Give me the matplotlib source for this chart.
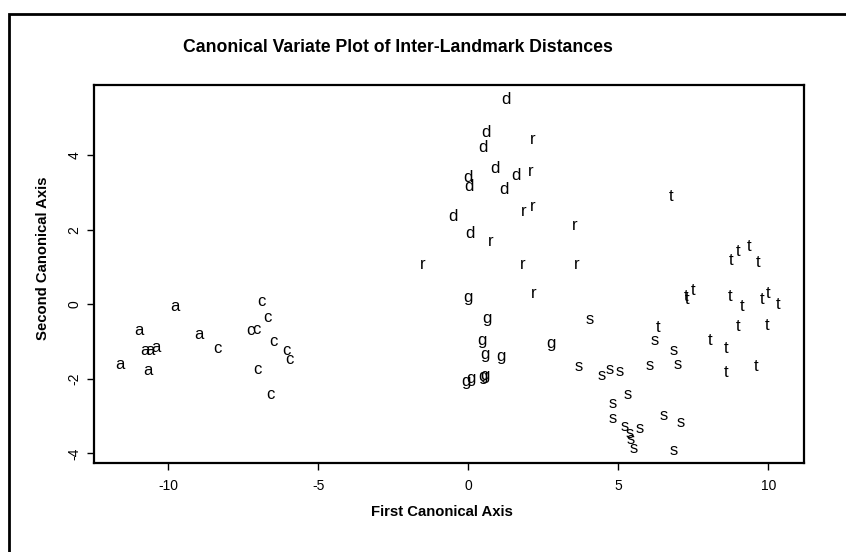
import matplotlib
matplotlib.use("Agg")
import matplotlib.pyplot as plt
from matplotlib.patches import Rectangle

# ---- data ----
a_x = [-9.78, -10.97, -10.78, -10.61, -10.42, -11.61, -10.67, -8.97]
a_y = [-0.05, -0.71, -1.24, -1.23, -1.16, -1.61, -1.78, -0.80]

c_x = [-8.35, -6.89, -6.69, -7.25, -7.08, -6.50, -6.05, -5.98, -7.03, -6.61]
c_y = [-1.20, 0.07, -0.36, -0.71, -0.67, -1.00, -1.23, -1.47, -1.74, -2.43]

d_x = [1.26, 0.59, 0.50, 0.87, 1.59, -0.03, 0.02, 1.20, -0.53, 0.06]
d_y = [5.50, 4.60, 4.20, 3.63, 3.45, 3.40, 3.15, 3.09, 2.35, 1.90]

r_x = [2.13, 2.09, 1.86, 2.13, 3.56, 0.76, -1.53, 1.80, 3.61, 2.17]
r_y = [4.43, 3.57, 2.48, 2.62, 2.10, 1.68, 1.07, 1.07, 1.07, 0.28]

g_x = [-0.02, 0.63, 0.45, 0.56, 1.08, 2.75, -0.08, 0.09, 0.50, 0.56]
g_y = [0.19, -0.38, -0.98, -1.36, -1.40, -1.06, -2.07, -1.98, -1.94, -1.92]

s_x = [4.03, 3.69, 6.22, 6.86, 6.97, 6.06, 4.45, 4.72, 5.06, 5.31,
       4.81, 4.80, 5.20, 5.39, 5.72, 5.42, 5.50, 6.52, 7.08, 6.86]
s_y = [-0.42, -1.67, -0.96, -1.24, -1.61, -1.63, -1.90, -1.76, -1.81, -2.43,
       -2.67, -3.06, -3.28, -3.46, -3.32, -3.64, -3.86, -2.99, -3.16, -3.91]

t_x = [6.75, 8.76, 8.98, 9.36, 9.67, 7.25, 7.28, 7.50, 8.72, 9.11,
       9.78, 9.98, 10.33, 6.31, 9.00, 9.95, 8.06, 8.59, 8.59, 9.58]
t_y = [2.88, 1.17, 1.41, 1.56, 1.12, 0.20, 0.12, 0.37, 0.22, -0.06,
       0.13, 0.28, -0.02, -0.62, -0.60, -0.56, -0.96, -1.18, -1.83, -1.67]

groups = [("a", a_x, a_y), ("c", c_x, c_y), ("d", d_x, d_y), ("r", r_x, r_y),
          ("g", g_x, g_y), ("s", s_x, s_y), ("t", t_x, t_y)]

x_ticks = [-10, -5, 0, 5, 10]
y_ticks = [-4, -2, 0, 2, 4]

title = "Canonical Variate Plot of Inter-Landmark Distances"
x_label = "First Canonical Axis"
y_label = "Second Canonical Axis"

# ---- figure ----
plt.rcParams["font.family"] = ["Liberation Sans", "DejaVu Sans"]
W, H = 846, 552
fig = plt.figure(figsize=(W / 100, H / 100), dpi=100)
fig.patch.set_facecolor("white")

L, R, T, B = 94, 804.3, 85, 462.7
ax = fig.add_axes([L / W, 1 - B / H, (R - L) / W, (B - T) / H])

for lab, xs, ys in groups:
    for x, y in zip(xs, ys):
        ax.text(x, y, lab, ha="center", va="center", fontsize=12, color="black")

ax.set_xlim(-12.48, 11.2)
ax.set_ylim(-4.25, 5.88)
ax.set_xticks(x_ticks)
ax.set_xticklabels([str(v) for v in x_ticks])
ax.set_yticks(y_ticks)
ax.set_yticklabels([str(v) for v in y_ticks], rotation=90, va="center")
ax.tick_params(direction="out", length=5, width=1, labelsize=10)
ax.tick_params(axis="x", pad=7)
ax.tick_params(axis="y", pad=4)
for sp in ax.spines.values():
    sp.set_linewidth(1.6)

fig.text(398 / W, 1 - 47 / H, title, ha="center", va="center",
         fontsize=12.7, fontweight="bold")
fig.text(442 / W, 1 - 512 / H, x_label, ha="center", va="center",
         fontsize=10.7, fontweight="bold")
fig.text(43 / W, 1 - 258 / H, y_label, ha="center", va="center",
         fontsize=10.7, fontweight="bold", rotation=90)

# outer frame (left and top edges visible)
fig.add_artist(Rectangle((8.5 / W, -0.2), 1.5, 1.2 - 13.5 / H, transform=fig.transFigure,
                         fill=False, lw=2, edgecolor="black", clip_on=False))

fig.savefig("out.png", dpi=100, facecolor="white")
